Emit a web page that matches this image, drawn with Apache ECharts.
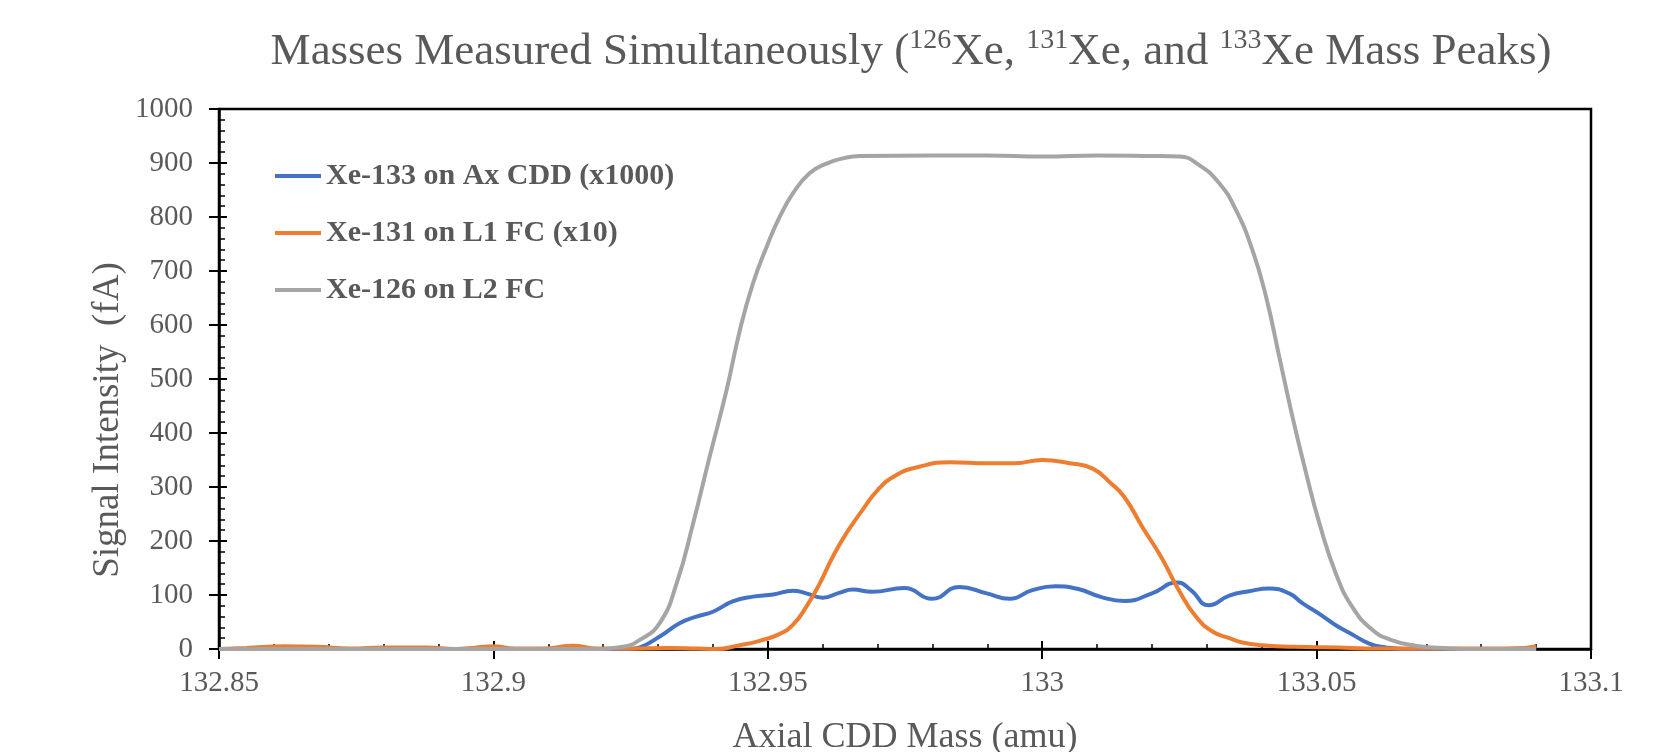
<!DOCTYPE html>
<html><head><meta charset="utf-8">
<script src="https://cdn.jsdelivr.net/npm/echarts@6/dist/echarts.min.js"></script>
<style>html,body{margin:0;padding:0;background:#fff}#c{width:1673px;height:752px}</style>
</head><body><div id="c"></div>
<script>
const seriesNames = ['Xe-133 on Ax CDD (x1000)', 'Xe-131 on L1 FC (x10)', 'Xe-126 on L2 FC'];
const xTickLabels = ['132.85', '132.9', '132.95', '133', '133.05', '133.1'];

const blueX = [132.85,132.9,132.925,132.9267,132.9303,132.934,132.937,132.94,132.9436,132.9473,132.951,132.9546,132.957,132.96,132.963,132.9655,132.969,132.9749,132.9799,132.9849,132.9899,132.9941,132.9982,133.0024,133.0066,133.0108,133.015,133.02,133.0246,133.0271,133.0303,133.0341,133.0377,133.0414,133.045,133.0474,133.0505,133.0535,133.0565,133.0596,133.0626,133.066,133.09];
const blueY = [0,0,0,3,23,48,60,69,88,97,101,108,103,95,104,110,106,113,93,115,103,93,109,116,111,96,89,103,123,109,81,99,107,112,103,85,65,44,27,10,3,0,0];

const orangeX = [132.85,132.855,132.862,132.868,132.874,132.88,132.888,132.893,132.897,132.9,132.904,132.909,132.9145,132.919,132.925,132.932,132.937,132.9405,132.9449,132.9485,132.9522,132.9546,132.957,132.9595,132.9618,132.9643,132.9673,132.9699,132.9732,132.9774,132.9832,132.99,132.995,133.0,133.005,133.0092,133.0125,133.015,133.0183,133.0217,133.025,133.028,133.0311,133.0341,133.0365,133.04,133.046,133.054,133.059,133.07,133.08,133.088,133.09];
const orangeY = [0,2,5,4,1,3,3,0,3,5,1,1,6,1,1,2,1,0,7,15,28,45,78,122,170,214,258,293,321,337,346,344,344,350,344,334,307,281,225,170,107,60,32,20,12,7,4,3,1,1,1,2,5];

const grayX = [132.85,132.9,132.918,132.9236,132.9267,132.9303,132.9334,132.9364,132.9394,132.9425,132.9449,132.9473,132.9498,132.9522,132.9546,132.9576,132.9607,132.9643,132.9667,132.98,132.99,133.0,133.01,133.02,133.025,133.0286,133.0323,133.0353,133.0383,133.0408,133.0432,133.0456,133.0481,133.0505,133.0535,133.0565,133.0602,133.0635,133.068,133.073,133.078,133.09];
const grayY = [0,0,0,4,17,48,122,233,356,480,590,677,745,801,844,881,899,910,913,914,914,912,914,913,912,896,862,813,739,652,541,430,325,233,140,78,35,17,6,2,0,0];

const FONT = 'Liberation Serif';
const TXT = '#595959';
const colors = ['#4472C4', '#ED7D31', '#A5A5A5'];
const zip = (xs, ys) => xs.map((x, i) => [x, ys[i]]);

const chart = echarts.init(document.getElementById('c'), null, {renderer: 'canvas'});
const xBase = {type: 'value', min: 132.85, max: 133.1, interval: 0.05, splitLine: {show: false}, position: 'bottom'};
const yBase = {type: 'value', min: 0, max: 1000, interval: 100, splitLine: {show: false}, position: 'left'};
chart.setOption({
  animation: false,
  backgroundColor: '#fff',
  grid: {left: 219, right: 82, top: 109, bottom: 103, show: true, borderColor: '#000', borderWidth: 2.5,
    containLabel: false, outerBoundsMode: 'none'},
  xAxis: [
    Object.assign({}, xBase, {
      axisLine: {show: true, lineStyle: {color: '#000', width: 2.5}},
      axisTick: {show: true, length: 10, lineStyle: {color: '#000', width: 2}},
      axisLabel: {color: TXT, fontFamily: FONT, fontSize: 29, margin: 20,
        formatter: v => xTickLabels[Math.round((v - 132.85) / 0.05)]},
      name: 'Axial CDD Mass (amu)', nameLocation: 'middle', nameGap: 71,
      nameTextStyle: {color: TXT, fontFamily: FONT, fontSize: 36}
    }),
    Object.assign({}, xBase, {
      axisLine: {show: false},
      axisTick: {show: true, inside: true, length: 8, lineStyle: {color: '#000', width: 2}},
      minorTick: {show: true, splitNumber: 5, length: 5, lineStyle: {color: '#000', width: 1.5}},
      axisLabel: {show: false}
    })
  ],
  yAxis: [
    Object.assign({}, yBase, {
      axisLine: {show: true, lineStyle: {color: '#000', width: 2.5}},
      axisTick: {show: true, length: 10, lineStyle: {color: '#000', width: 2}},
      axisLabel: {color: TXT, fontFamily: FONT, fontSize: 29, margin: 26, formatter: v => String(v)}
    }),
    Object.assign({}, yBase, {
      axisLine: {show: false},
      axisTick: {show: true, inside: true, length: 8, lineStyle: {color: '#000', width: 2}},
      minorTick: {show: true, splitNumber: 5, length: 6, lineStyle: {color: '#000', width: 1.5}},
      axisLabel: {show: false}
    })
  ],
  legend: {
    left: 275, top: 161, padding: 0, orient: 'vertical', itemWidth: 46, itemHeight: 4, itemGap: 27,
    icon: 'rect',
    data: seriesNames,
    textStyle: {fontFamily: FONT, fontWeight: 'bold', fontSize: 30, color: TXT, lineHeight: 30}
  },
  graphic: [
    {type: 'text', x: 911, y: 52, style: {
      text: '{t|Masses Measured Simultaneously (}{s|126}{t|Xe, }{s|131}{t|Xe, and }{s|133}{t|Xe Mass Peaks)}',
      align: 'center', verticalAlign: 'middle', fill: TXT,
      rich: {
        t: {fontFamily: FONT, fontSize: 45, lineHeight: 50, verticalAlign: 'middle', fill: TXT},
        s: {fontFamily: FONT, fontSize: 28, lineHeight: 30, verticalAlign: 'top', fill: TXT}
      }
    }},
    {type: 'text', x: 108, y: 420, rotation: Math.PI / 2, style: {
      text: 'Signal Intensity  (fA)', fontFamily: FONT, fontSize: 37, fill: TXT,
      align: 'center', verticalAlign: 'middle'
    }}
  ],
  series: [
    {name: seriesNames[0], type: 'line', data: zip(blueX, blueY), color: colors[0]},
    {name: seriesNames[1], type: 'line', data: zip(orangeX, orangeY), color: colors[1]},
    {name: seriesNames[2], type: 'line', data: zip(grayX, grayY), color: colors[2]}
  ].map(s => Object.assign(s, {smooth: true, symbol: 'none', showSymbol: false,
    lineStyle: {width: 4, color: s.color}, itemStyle: {color: s.color}, xAxisIndex: 0, yAxisIndex: 0}))
});
</script></body></html>
